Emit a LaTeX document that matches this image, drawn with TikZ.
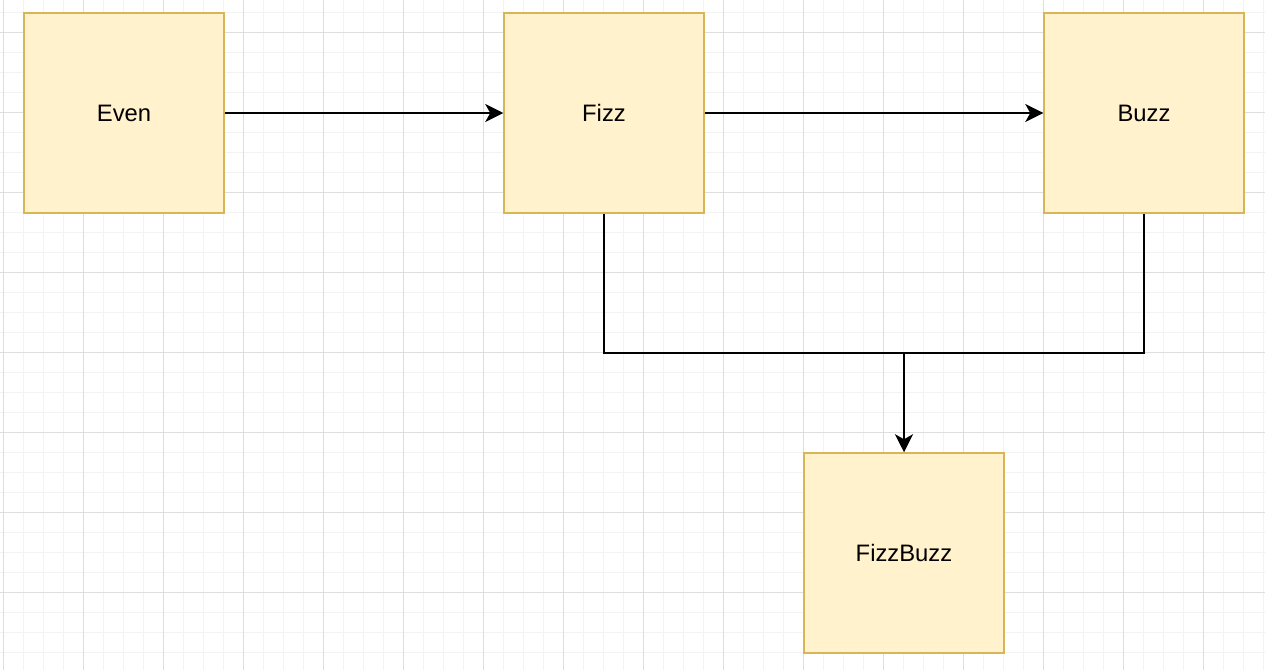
\documentclass[tikz,border=0pt]{standalone}
\usepackage{fontspec}
\setmainfont{Liberation Sans}
\usepackage{xcolor}
\usetikzlibrary{arrows.meta,positioning}

\definecolor{boxfill}{HTML}{FFF2CC}
\definecolor{boxline}{HTML}{D6B656}
\definecolor{gridminor}{HTML}{F3F3F3}
\definecolor{gridmajor}{HTML}{DEDEDE}

\tikzset{
    statebox/.style={draw=boxline, fill=boxfill, line width=1.5pt, minimum size=200pt,
        inner sep=0pt, font=\fontsize{23.8}{28}\selectfont},
    flow/.style={line width=1.7pt, black},
}

\begin{document}
\begin{tikzpicture}[x=1pt, y=-1pt, >={Stealth[length=18pt, width=18pt, inset=5pt]}]
    \useasboundingbox (0,0) rectangle (1265,670);
    \fill[white] (0,0) rectangle (1265,670);

    % background grid
    \foreach \x in {3,23,...,1263} {
        \draw[gridminor, line width=1pt] (\x,0) -- (\x,670);
    }
    \foreach \y in {12,32,...,652} {
        \draw[gridminor, line width=1pt] (0,\y) -- (1265,\y);
    }
    \foreach \x in {3,83,...,1203} {
        \draw[gridmajor, line width=1pt] (\x,0) -- (\x,670);
    }
    \foreach \y in {32,112,...,592} {
        \draw[gridmajor, line width=1pt] (0,\y) -- (1265,\y);
    }

    \node[statebox] (even) at (124,113) {Even};
    \node[statebox] (fizz) at (604,113) {Fizz};
    \node[statebox] (buzz) at (1144,113) {Buzz};
    \node[statebox] (fizzbuzz) at (904,553) {FizzBuzz};
    \coordinate (join) at (904,353);

    \draw[flow, ->] (even) -- (fizz);
    \draw[flow, ->] (fizz) -- (buzz);
    \draw[flow] (fizz.south) |- (join);
    \draw[flow] (buzz.south) |- (join);
    \draw[flow, ->] (join) -- (fizzbuzz.north);
\end{tikzpicture}
\end{document}
